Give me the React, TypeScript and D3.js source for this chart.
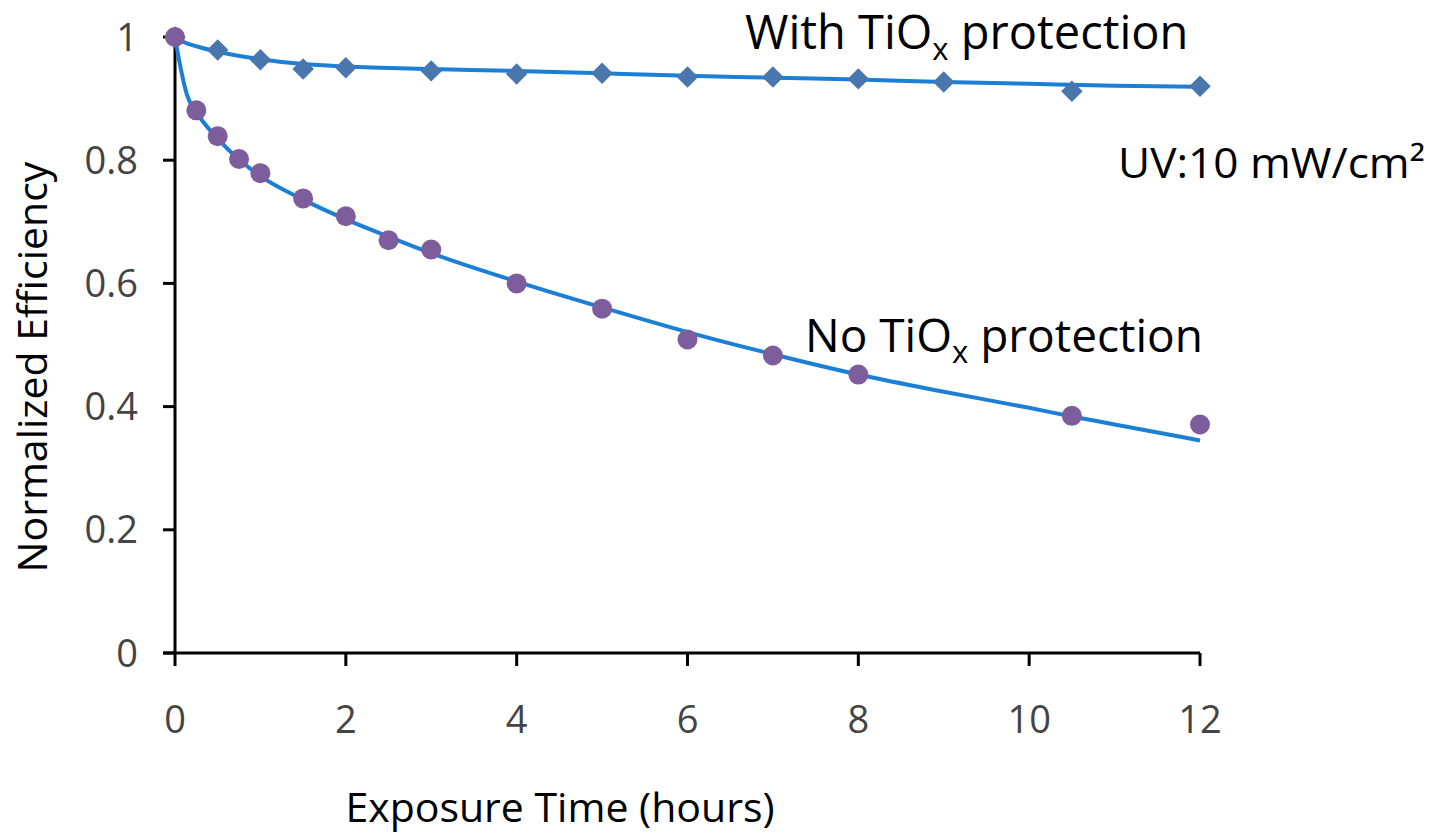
import React from "react";
import * as d3 from "d3";

// measured points
const hoursWith = [0, 0.5, 1, 1.5, 2, 3, 4, 5, 6, 7, 8, 9, 10.5, 12];
const effWith = [1.0, 0.979, 0.963, 0.948, 0.95, 0.945, 0.94, 0.941, 0.935, 0.935, 0.932, 0.927, 0.912, 0.92];

const hoursNo = [0, 0.25, 0.5, 0.75, 1, 1.5, 2, 2.5, 3, 4, 5, 6, 7, 8, 10.5, 12];
const effNo = [1.0, 0.881, 0.839, 0.802, 0.779, 0.738, 0.709, 0.67, 0.655, 0.6, 0.559, 0.509, 0.483, 0.452, 0.385, 0.371];

// fitted trend lines
const fitHoursWith = [0, 0.1, 0.25, 0.5, 1, 1.5, 2, 3, 4, 5, 6, 7, 8, 9, 10, 11, 12];
const fitWith = [1.0, 0.992, 0.985, 0.976, 0.964, 0.956, 0.952, 0.948, 0.945, 0.941, 0.937, 0.934, 0.931, 0.927, 0.924, 0.921, 0.919];

const fitHoursNo = [0, 0.06, 0.14, 0.25, 0.5, 0.75, 1, 1.5, 2, 2.5, 3, 4, 5, 6, 7, 8, 9, 10, 10.5, 11, 12];
const fitNo = [1.0, 0.954, 0.906, 0.878, 0.835, 0.801, 0.774, 0.736, 0.704, 0.676, 0.649, 0.603, 0.561, 0.521, 0.485, 0.452, 0.424, 0.398, 0.384, 0.371, 0.345];

const xTicks = [0, 2, 4, 6, 8, 10, 12];
const yTicks = [0, 0.2, 0.4, 0.6, 0.8, 1];

const W = 1455;
const H = 835;
const font = "'Open Sans', sans-serif";

export default function App() {
  const x = d3.scaleLinear().domain([0, 12]).range([175, 1200]);
  const y = d3.scaleLinear().domain([0, 1]).range([653, 37]);

  const line = d3
    .line<[number, number]>()
    .x(d => x(d[0]))
    .y(d => y(d[1]))
    .curve(d3.curveMonotoneX);

  const withFit = fitHoursWith.map((h, i) => [h, fitWith[i]] as [number, number]);
  const noFit = fitHoursNo.map((h, i) => [h, fitNo[i]] as [number, number]);

  // square turned 45deg, like the excel diamond
  const diamond = d3.symbol().type(d3.symbolSquare).size(230);

  return (
    <div style={{ position: "absolute", left: 0, top: 0 }}>
      <svg width={W} height={H} style={{ display: "block", background: "#fff" }}>
        {/* axes */}
        <line x1={x(0)} x2={x(0)} y1={y(1)} y2={y(0)} stroke="#000" strokeWidth={3} />
        <line x1={x(0) - 12} x2={x(12)} y1={y(0)} y2={y(0)} stroke="#000" strokeWidth={3} />
        {yTicks.map(t => (
          <g key={"y" + t}>
            <line x1={x(0) - 12} x2={x(0)} y1={y(t)} y2={y(t)} stroke="#000" strokeWidth={3} />
            <text x={138} y={y(t)} dy="0.36em" textAnchor="end" fontFamily={font} fontSize={38} fill="#444">
              {t}
            </text>
          </g>
        ))}
        {xTicks.map(t => (
          <g key={"x" + t}>
            <line x1={x(t)} x2={x(t)} y1={y(0)} y2={y(0) + 13} stroke="#000" strokeWidth={3} />
            <text x={x(t)} y={733} textAnchor="middle" fontFamily={font} fontSize={38} fill="#444">
              {t}
            </text>
          </g>
        ))}

        {/* fit curves */}
        <path d={line(withFit) || ""} fill="none" stroke="#1C7FD6" strokeWidth={4} />
        <path d={line(noFit) || ""} fill="none" stroke="#1C7FD6" strokeWidth={4} />

        {/* markers */}
        {hoursWith.map((h, i) => (
          <path
            key={"d" + i}
            d={diamond() || ""}
            transform={`translate(${x(h)},${y(effWith[i])}) rotate(45)`}
            fill="#4A76AE"
          />
        ))}
        {hoursNo.map((h, i) => (
          <circle key={"c" + i} cx={x(h)} cy={y(effNo[i])} r={10} fill="#7D5D9B" />
        ))}

        {/* labels */}
        <text x={745} y={49} fontFamily={font} fontSize={47} fill="#000">
          With TiO<tspan fontSize={31} dy={11}>x</tspan>
          <tspan dy={-11}> protection</tspan>
        </text>
        <text x={805} y={352} fontFamily={font} fontSize={46} fill="#000">
          No TiO<tspan fontSize={31} dy={11}>x</tspan>
          <tspan dy={-11}> protection</tspan>
        </text>
        <text x={1118} y={178} fontFamily={font} fontSize={42} fill="#000" textLength={307} lengthAdjust="spacingAndGlyphs">
          UV:10 mW/cm²
        </text>
        <text x={560} y={822} textAnchor="middle" fontFamily={font} fontSize={41} fill="#000">
          Exposure Time (hours)
        </text>
        <text
          transform={`translate(47,367) rotate(-90)`}
          textAnchor="middle"
          fontFamily={font}
          fontSize={41}
          fill="#000"
        >
          Normalized Efficiency
        </text>
      </svg>
    </div>
  );
}
